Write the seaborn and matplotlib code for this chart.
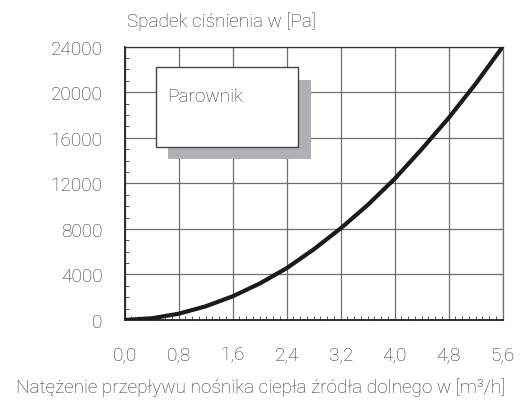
import matplotlib
matplotlib.use("Agg")
import matplotlib.pyplot as plt
import matplotlib.patches as mpatches
from matplotlib.ticker import MultipleLocator, FixedLocator
import seaborn as sns
import pandas as pd

# ---- data ----
flow = [0.0, 0.4, 0.8, 1.2, 1.6, 2.0, 2.4, 2.8, 3.2, 3.6, 4.0, 4.4, 4.8, 5.2, 5.6]
pressure_drop = [0, 150, 550, 1200, 2080, 3200, 4550, 6200, 8050, 10100, 12400, 15000, 17750, 20750, 24000]
x_ticks = [0.0, 0.8, 1.6, 2.4, 3.2, 4.0, 4.8, 5.6]
x_tick_labels = ["0,0", "0,8", "1,6", "2,4", "3,2", "4,0", "4,8", "5,6"]
y_ticks = [0, 4000, 8000, 12000, 16000, 20000, 24000]
y_tick_labels = ["0", "4000", "8000", "12000", "16000", "20000", "24000"]
title_text = "Spadek ciśnienia w [Pa]"
xlabel_text = "Natężenie przepływu nośnika ciepła źródła dolnego w [m³/h]"
box_label = "Parownik"

df = pd.DataFrame({"flow": flow, "dp": pressure_drop})

sns.set_style("white")
plt.rcParams["font.family"] = ["Roboto", "DejaVu Sans"]
plt.rcParams["font.weight"] = "light"

TXT = "#333333"
FS = 13.7
fig = plt.figure(figsize=(5.23, 4.02), dpi=100)
ax = fig.add_axes([0.2384, 0.2015, 0.7228, 0.6798])

sns.lineplot(data=df, x="flow", y="dp", ax=ax, color="#1c1a1a", linewidth=3.0, zorder=5)

ax.set_xlim(0, 5.6)
ax.set_ylim(0, 24000)
ax.xaxis.set_major_locator(FixedLocator(x_ticks))
ax.set_xticklabels(x_tick_labels)
ax.yaxis.set_major_locator(FixedLocator(y_ticks))
ax.set_yticklabels(y_tick_labels)
ax.xaxis.set_minor_locator(MultipleLocator(0.1))
ax.yaxis.set_minor_locator(MultipleLocator(1000))

ax.grid(True, which="major", color="#6e6e6e", linewidth=0.9, zorder=0)
ax.set_axisbelow(True)

ax.tick_params(axis="both", which="major", direction="out", length=5, width=0.9,
               color="#333333", labelsize=FS, labelcolor=TXT)
ax.tick_params(axis="y", which="major", pad=11)
ax.tick_params(axis="x", which="major", pad=13)
ax.tick_params(axis="both", which="minor", direction="in", length=3, width=0.7, color="#555555")
ax.tick_params(axis="x", which="minor", bottom=True)
ax.tick_params(axis="y", which="minor", left=True)

for side, sp in ax.spines.items():
    sp.set_visible(True)
    sp.set_color("#6e6e6e")
    sp.set_linewidth(0.9)
ax.spines["left"].set_color("#222222")
ax.spines["left"].set_linewidth(1.3)
ax.spines["bottom"].set_color("#222222")
ax.spines["bottom"].set_linewidth(1.3)
ax.spines["top"].set_color("#333333")

ax.set_xlabel("")
ax.set_ylabel("")

# "Parownik" box with shadow
shadow = mpatches.Rectangle((0.643, 14154), 2.756 - 0.643, 21099 - 14154,
                            facecolor="#b1b1b5", edgecolor="none", zorder=3)
box = mpatches.Rectangle((0.459, 15209), 2.563 - 0.459, 22180 - 15209,
                         facecolor="white", edgecolor="#444444", linewidth=1.0, zorder=4)
ax.add_patch(shadow)
ax.add_patch(box)
ax.text(0.63, 19700, box_label, fontsize=FS, color=TXT, va="center", ha="left", zorder=6)

fig.text(127 / 523, 1 - 22 / 402, title_text, fontsize=FS, color=TXT, ha="left", va="center")
fig.text(261 / 523, 1 - 388 / 402, xlabel_text, fontsize=FS, color=TXT, ha="center", va="center")

fig.savefig("out.png", dpi=100)
